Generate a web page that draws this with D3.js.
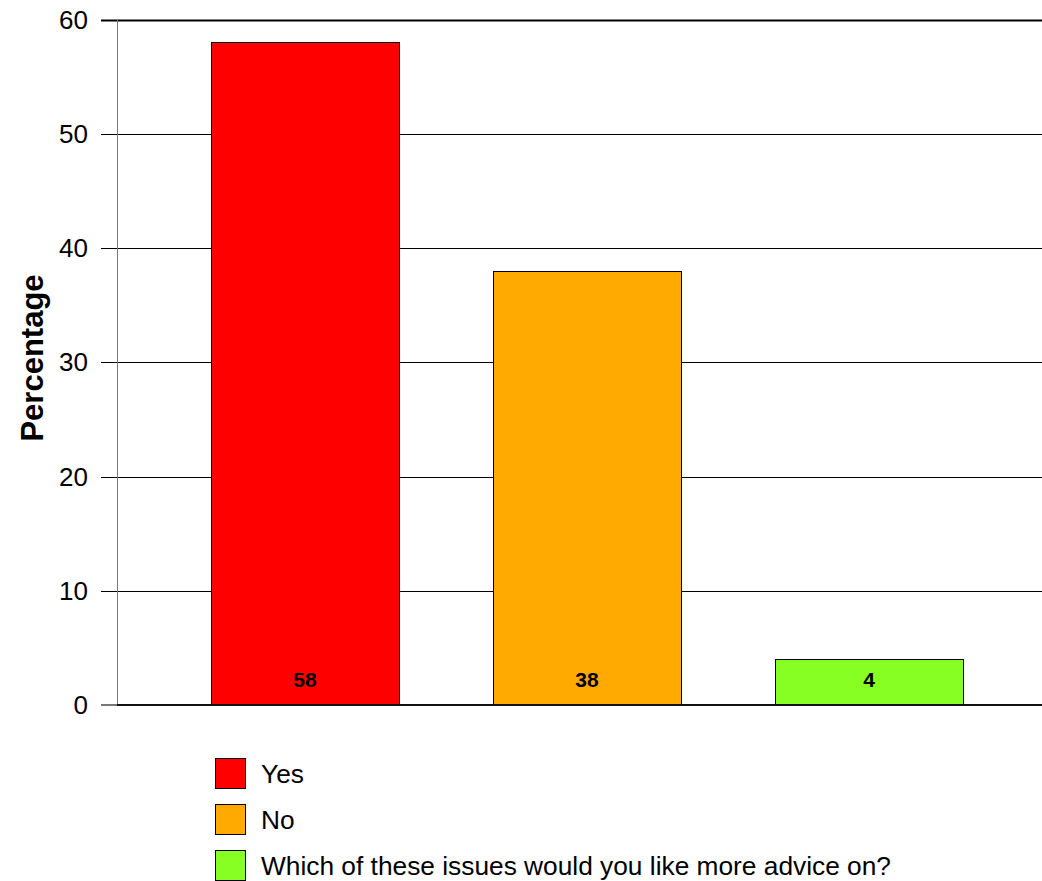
<!DOCTYPE html>
<html><head><meta charset="utf-8">
<script src="https://cdn.jsdelivr.net/npm/d3@7"></script>
<style>body{margin:0;background:#fff}svg{display:block}</style>
</head><body>
<svg id="c" width="1042" height="881"></svg>
<script>
const categories = ["Yes", "No", "Which of these issues would you like more advice on?"];
const values = [58, 38, 4];
const colors = ["#ff0000", "#ffaa00", "#88ff22"];
const yTicks = [0, 10, 20, 30, 40, 50, 60];
const yTitle = "Percentage";

const svg = d3.select("#c");
const font = "Liberation Sans, Arial, sans-serif";
const x = d3.scaleBand().domain(categories).range([117, 1057]).paddingInner(1/3).paddingOuter(1/3);
const y = d3.scaleLinear().domain([0, 60]).range([705, 19.5]);

// gridlines
svg.append("g").selectAll("line").data(yTicks.filter(d => d > 0)).join("line")
  .attr("x1", 101).attr("x2", 1042)
  .attr("y1", d => Math.round(y(d)) + 0.5).attr("y2", d => Math.round(y(d)) + 0.5)
  .attr("stroke", "#000").attr("stroke-width", d => d === 60 ? 2 : 1);

// y axis line
svg.append("line").attr("x1", 117.5).attr("x2", 117.5).attr("y1", y(60)).attr("y2", y(0))
  .attr("stroke", "#777").attr("stroke-width", 1);

// bars
svg.append("g").selectAll("rect").data(values).join("rect")
  .attr("x", (d, i) => x(categories[i]) + 0.5)
  .attr("y", d => Math.round(y(d)) + 0.5)
  .attr("width", x.bandwidth())
  .attr("height", d => y(0) - Math.round(y(d)))
  .attr("fill", (d, i) => colors[i]).attr("stroke", "#000").attr("stroke-width", 1);

// baseline
svg.append("line").attr("x1", 101).attr("x2", 1042).attr("y1", 705).attr("y2", 705)
  .attr("stroke", "#111").attr("stroke-width", 2);
svg.append("line").attr("x1", 101).attr("x2", 117).attr("y1", 705).attr("y2", 705)
  .attr("stroke", "#777").attr("stroke-width", 2);

// tick labels
svg.append("g").selectAll("text").data(yTicks).join("text")
  .attr("x", 88).attr("y", d => y(d) + 9)
  .attr("text-anchor", "end").attr("font-family", font).attr("font-size", 26)
  .text(d => d);

// bar value labels
svg.append("g").selectAll("text").data(values).join("text")
  .attr("x", (d, i) => x(categories[i]) + x.bandwidth() / 2)
  .attr("y", 687)
  .attr("text-anchor", "middle").attr("font-family", font).attr("font-size", 21).attr("font-weight", "bold")
  .text(d => d);

// y title
svg.append("text").attr("transform", "translate(43,358) rotate(-90)")
  .attr("text-anchor", "middle").attr("font-family", font).attr("font-size", 31).attr("font-weight", "bold")
  .text(yTitle);

// legend
const lg = svg.append("g").selectAll("g").data(categories).join("g")
  .attr("transform", (d, i) => `translate(215,${758 + i * 46})`);
lg.append("rect").attr("x", 0.5).attr("y", 0.5).attr("width", 30).attr("height", 30)
  .attr("fill", (d, i) => colors[i]).attr("stroke", "#000");
lg.append("text").attr("x", 46).attr("y", 25).attr("font-family", font).attr("font-size", 26.3).text(d => d);
</script>
</body></html>
